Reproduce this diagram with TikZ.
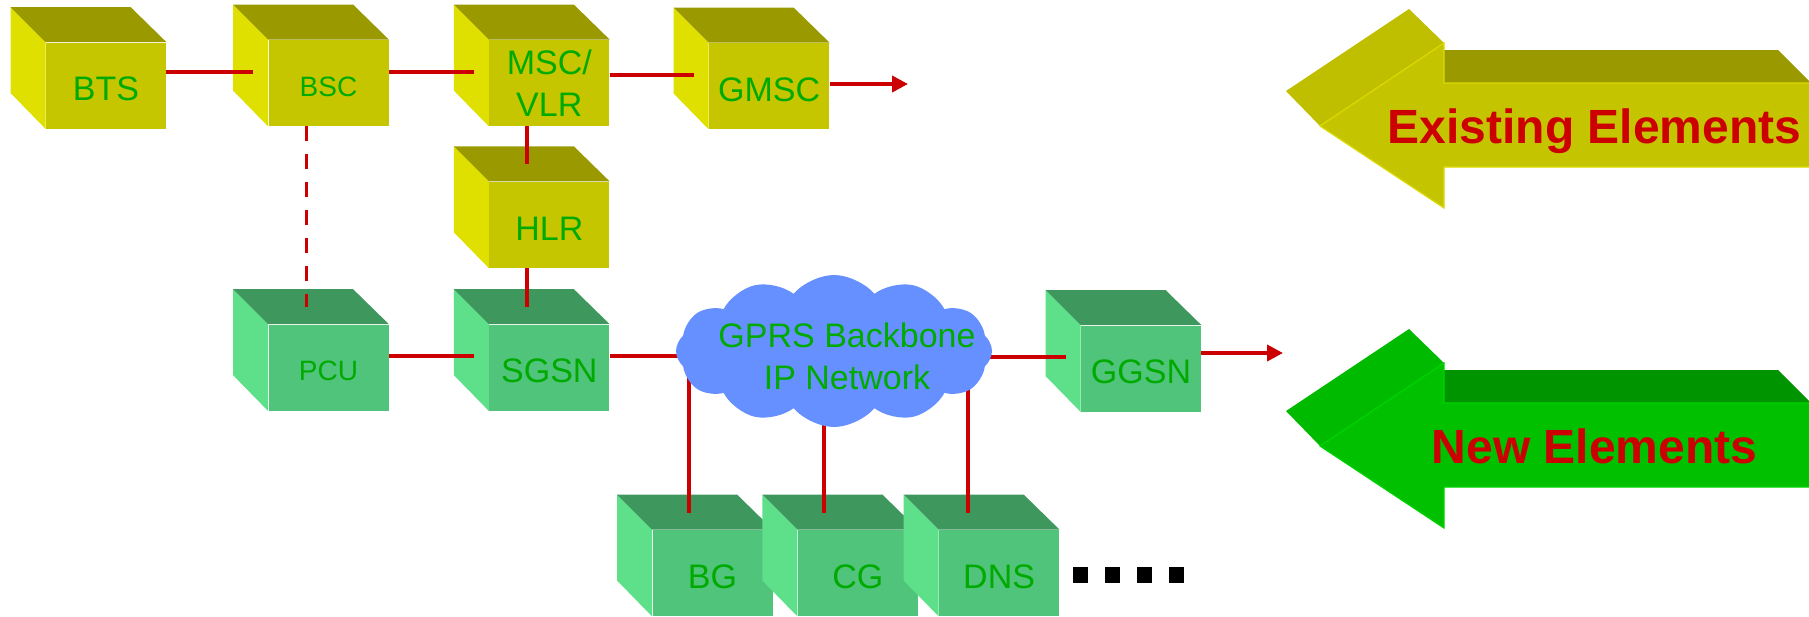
\documentclass[tikz,border=0pt]{standalone}
\usepackage{fontspec}
\setmainfont{Liberation Sans}
\usetikzlibrary{arrows.meta,positioning,shapes.symbols}

\definecolor{yfront}{HTML}{C6C600}
\definecolor{yside}{HTML}{E0E000}
\definecolor{ytop}{HTML}{9A9A00}
\definecolor{gfront}{HTML}{50C47A}
\definecolor{gside}{HTML}{5EE08A}
\definecolor{gtop}{HTML}{3E985E}
\definecolor{labgreen}{HTML}{00AA00}
\definecolor{linkred}{HTML}{CC0000}
\definecolor{netblue}{HTML}{6690FF}
\definecolor{yarrow}{HTML}{C4C400}
\definecolor{yhead}{HTML}{BFBF00}
\definecolor{yedge}{HTML}{DADA00}
\definecolor{garrow}{HTML}{00C000}
\definecolor{ghead}{HTML}{00BA00}
\definecolor{gshaft}{HTML}{009400}
\definecolor{gedge}{HTML}{00D400}

\begin{document}
\begin{tikzpicture}[x=0.5pt, y=-0.5pt,
    box/.style={rectangle, minimum width=60pt, minimum height=43pt, inner sep=0pt,
        text=labgreen, font=\fontsize{17}{20.75}\selectfont, align=center},
    ybox/.style={box, fill=yfront, text height=15.2pt, text depth=0pt},
    gbox/.style={box, fill=gfront, text height=15.2pt, text depth=0pt},
    smalltext/.style={font=\fontsize{14}{17}\selectfont, text height=13pt},
    link/.style={draw=linkred, line width=1.9pt},
    outarrow/.style={-{Triangle[length=8pt,width=8pt]}},
    netcloud/.style={cloud, cloud puffs=12, cloud puff arc=100, aspect=2.6, fill=netblue,
        minimum width=158pt, minimum height=76pt, inner sep=0pt},
    bigtext/.style={text=linkred, font=\fontsize{24}{28}\selectfont\bfseries, anchor=base}
]
\useasboundingbox (0,0) rectangle (1809,616);

% existing elements
\node[ybox] (BTS) at (106,85.5) {BTS};
\node[ybox, smalltext] (BSC) at (328.5,83) {BSC};
\node[box, fill=yfront, right=50pt of BSC] (MSC) {MSC/\\VLR};
\node[ybox, right=49.5pt of MSC, yshift=-1.5pt] (GMSC) {GMSC};
\node[ybox, below=27.5pt of MSC] (HLR) {HLR};

% new elements
\node[gbox, below=28pt of HLR] (SGSN) {SGSN};
\node[gbox, smalltext, left=50pt of SGSN] (PCU) {PCU};
\node[gbox] (GGSN) at (1141,368.5) {GGSN};
\node[gbox] (BG) at (712.5,573) {BG};
\node[gbox, right=12.25pt of BG] (CG) {CG};
\node[gbox, right=10.25pt of CG] (DNS) {DNS};

% side and top faces
\foreach \n/\s/\t in {BTS/yside/ytop, BSC/yside/ytop, MSC/yside/ytop, GMSC/yside/ytop,
    HLR/yside/ytop, PCU/gside/gtop, SGSN/gside/gtop, GGSN/gside/gtop,
    BG/gside/gtop, CG/gside/gtop, DNS/gside/gtop} {
  \fill[\s] (\n.north west) -- ++(-17.5pt,17.5pt) -- ++(0,-43pt) -- (\n.south west) -- cycle;
  \fill[\t] (\n.north west) -- ++(-17.5pt,17.5pt) -- ++(60pt,0) -- (\n.north east) -- cycle;
  \coordinate (\n-side) at ([shift={(-7.5pt,-16pt)}]\n.north west);
  \coordinate (\n-top) at ([shift={(-11pt,8.5pt)}]\n.north);
}

\coordinate (gmscout) at (908,84);
\coordinate (ggsnout) at (1283,353);
\coordinate (netW) at (720,354);
\coordinate (netE) at (960,354);
\coordinate (tapBG) at (689,370);
\coordinate (tapCG) at (824,380);
\coordinate (tapDNS) at (968,360);

\draw[link] (BTS.east |- BSC-side) -- (BSC-side);
\draw[link] (BSC.east |- MSC-side) -- (MSC-side);
\draw[link] (MSC.east |- GMSC-side) -- (GMSC-side);
\draw[link, outarrow] (GMSC.east |- gmscout) -- (gmscout);
\draw[link] (HLR-top |- MSC.south) -- (HLR-top);
\draw[link] (SGSN-top |- HLR.south) -- (SGSN-top);
\draw[link, dash pattern=on 7.5pt off 6.5pt] (PCU-top |- BSC.south) -- (PCU-top);
\draw[link] (PCU.east |- SGSN-side) -- (SGSN-side);
\draw[link] (SGSN.east |- SGSN-side) -- (netW |- SGSN-side);
\draw[link] (netE |- GGSN-side) -- (GGSN-side);
\draw[link, outarrow] (GGSN.east |- ggsnout) -- (ggsnout);
\draw[link] (tapBG) -- (tapBG |- BG-top);
\draw[link] (tapCG) -- (tapCG |- CG-top);
\draw[link] (tapDNS) -- (tapDNS |- DNS-top);

\node[netcloud] (IPnet) at (834,351) {};
\node[text=labgreen, font=\fontsize{17}{21}\selectfont, align=center] (IPtext) at (847,356)
    {GPRS Backbone\\IP Network};

\foreach \x in {1073,1105,1137,1169}
  \fill (\x,567) rectangle ++(15,16);

% legend arrows
\foreach \dy/\fc/\hc/\tc/\ec/\nm/\txt in {0/yarrow/yhead/ytop/yedge/exist/Existing Elements,
    320/garrow/ghead/gshaft/gedge/new/New Elements} {
  \begin{scope}[shift={(0,\dy)}]
    \fill[\tc] (1444,50) -- (1778,50) -- (1815,87) -- (1444,87) -- cycle;
    \fill[\hc] (1286,91) -- (1409,9) -- (1444,43) -- (1320,126) -- cycle;
    \filldraw[fill=\fc, draw=\ec, line width=0.6pt] (1320,126) -- (1444,43) -- (1444,83)
      -- (1815,83) -- (1815,167) -- (1444,167) -- (1444,208) -- cycle;
    \node[bigtext] (\nm) at (1594.5,143.5) {\txt};
  \end{scope}
}
\end{tikzpicture}
\end{document}
